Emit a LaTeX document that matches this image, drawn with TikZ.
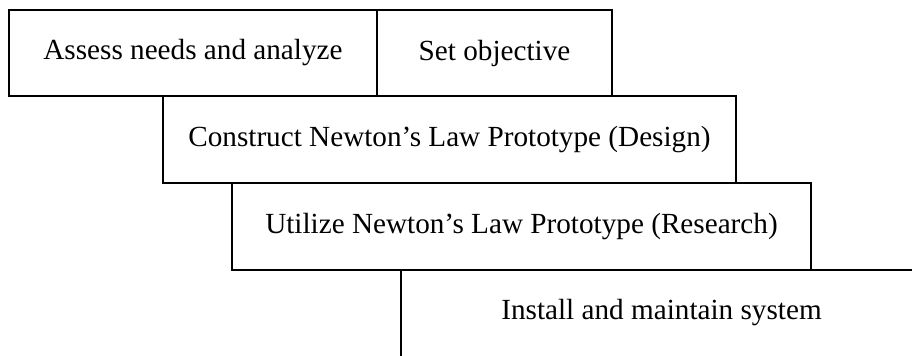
\documentclass[tikz,border=0pt]{standalone}
\usepackage{fontspec}
\setmainfont{Liberation Serif}
\usepackage{tikz}
\tikzset{
    stage/.style={ draw, line width=1pt, inner sep=0pt, minimum height=43.25pt,
                   font=\fontsize{14.6pt}{17pt}\selectfont },
    openstage/.style={ inner sep=0pt, minimum height=43pt,
                   font=\fontsize{14.6pt}{17pt}\selectfont },
    edge/.style={ line width=1pt, black }
}
\begin{document}
\begin{tikzpicture}[x=0.5pt,y=-0.5pt]
        %\draw[step=50, very thin, gray, dashed] (0,0) grid (912,356);
        \clip (0,0) rectangle (912,356);

        \node[stage, minimum width=184.25pt] (assess)    at (193,53)      {Assess needs and analyze};
        \node[stage, minimum width=117.5pt]  (objective) at (494.5,53)    {Set objective};
        \node[stage, minimum width=286.5pt]  (construct) at (449.5,139.5) {Construct Newton’s Law Prototype (Design)};
        \node[stage, minimum width=289.5pt]  (utilize)   at (521.5,226.5) {Utilize Newton’s Law Prototype (Research)};
        \node[openstage, minimum width=260.5pt] (install) at (661.5,313)  {Install and maintain system};

        \draw[edge] (install.south west) -- (install.north west) -- (install.north east);
\end{tikzpicture}
\end{document}
